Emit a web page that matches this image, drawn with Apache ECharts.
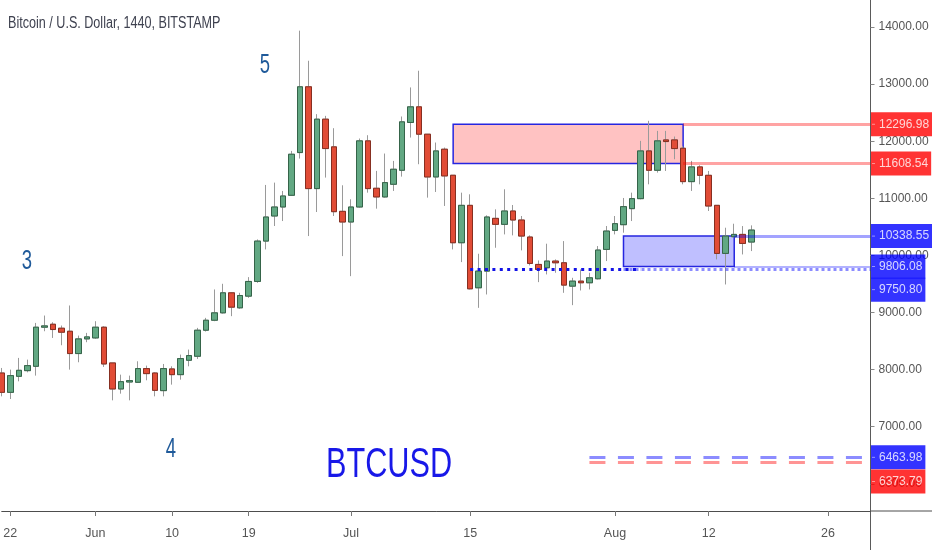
<!DOCTYPE html>
<html><head><meta charset="utf-8">
<script src="https://cdn.jsdelivr.net/npm/echarts@6/dist/echarts.min.js"></script>
<style>html,body{margin:0;padding:0;background:#fff}#c{width:932px;height:550px}</style>
</head><body><div id="c"></div>
<script>
// ---- categories (daily, 2019) ----
const dates = [
'05-21','05-22','05-23','05-24','05-25','05-26','05-27','05-28','05-29','05-30','05-31',
'06-01','06-02','06-03','06-04','06-05','06-06','06-07','06-08','06-09','06-10',
'06-11','06-12','06-13','06-14','06-15','06-16','06-17','06-18','06-19','06-20',
'06-21','06-22','06-23','06-24','06-25','06-26','06-27','06-28','06-29','06-30',
'07-01','07-02','07-03','07-04','07-05','07-06','07-07','07-08','07-09','07-10',
'07-11','07-12','07-13','07-14','07-15','07-16','07-17','07-18','07-19','07-20',
'07-21','07-22','07-23','07-24','07-25','07-26','07-27','07-28','07-29','07-30','07-31',
'08-01','08-02','08-03','08-04','08-05','08-06','08-07','08-08','08-09','08-10',
'08-11','08-12','08-13','08-14','08-15','08-16','08-17','08-18','08-19','08-20',
'08-21','08-22','08-23','08-24','08-25','08-26','08-27','08-28','08-29','08-30','08-31'
];
// ---- OHLC values ----
const opens = [
7941,7602,7883,7982,8058,8743,8795,8725,8672,8281,8538,8555,8743,8117,7661,7783,7778,8018,7941,7632,
8012,7912,8164,8234,8690,8865,8994,9345,9082,9287,9544,10251,10690,10848,11053,11801,12953,11170,12386,11901,
10772,10585,10848,12006,11176,11024,11246,11491,12328,12602,12123,11374,11860,11404,10222,10877,9433,9725,10649,10544,
10778,10620,10322,9842,9784,9901,9871,9462,9550,9521,9591,10105,10439,10538,10819,10994,11830,11491,12023,12023,
11877,11292,11550,11403,10877,10035,10327,10368,10234
];
const closes = [
7602,7895,7988,8070,8743,8766,8702,8655,8281,8538,8573,8743,8099,7661,7789,7807,8018,7930,7637,8018,
7912,8193,8246,8690,8865,8994,9345,9094,9298,9544,10251,10673,10848,11041,11772,12953,11170,12386,11871,10766,
10585,10848,12006,11170,11024,11275,11509,12339,12602,12123,11374,11830,11392,10222,10877,9415,9725,10673,10544,10778,
10620,10339,9860,9754,9901,9871,9480,9550,9521,9608,10094,10427,10556,10854,10994,11830,11491,12006,11994,11871,
11292,11550,11403,10865,10035,10339,10368,10210,10444
];
const lows = [
7532,7485,7795,7953,7895,8672,8555,8427,8000,8129,8480,8538,8047,7462,7579,7462,7766,7813,7532,7532,
7737,7824,8058,8187,8667,8848,8982,8936,9064,9257,9520,10105,10515,10602,11041,11696,10339,10760,11363,10690,
9988,9637,10836,11099,10819,11012,11129,11380,12064,11597,11012,11111,10866,10105,9883,9404,9082,9316,10134,10368,
10351,10088,9825,9532,9667,9696,9345,9129,9386,9404,9579,9901,10368,10398,10602,10982,11245,11450,11479,11684,
11245,11129,11245,10778,9930,9491,10327,10017,10076
];
const highs = [
8029,8000,8205,8175,8818,8947,8830,8772,9123,8596,8643,8848,8760,8117,7912,7895,8146,8070,7953,8099,
8058,8263,8351,8731,8906,9404,9503,9357,9345,9620,10280,11234,11275,11129,11830,13936,13409,12474,12444,12228,
11228,10983,12047,12105,11480,11784,11655,12433,12942,13234,12123,11977,11889,11404,11099,11070,10029,10702,10807,11158,
10883,10690,10351,9912,10205,9930,10251,9608,9754,9696,10164,10515,10690,11006,11099,12006,12357,12181,12181,12082,
11918,11655,11579,11479,10877,10485,10555,10514,10526
];
// ---- axis tick labels ----
const xTickDates = ['05-22','06-01','06-10','06-19','07-01','07-15','08-01','08-12','08-26'];
const monthNames = ['Jan','Feb','Mar','Apr','May','Jun','Jul','Aug','Sep','Oct','Nov','Dec'];
// ---- drawn levels / zones ----
const resistanceZone = [12296.98, 11608.54];
const resistanceDates = ['07-13','08-09'];
const supportZone = [10338.55, 9806.08];
const supportDates = ['08-02','08-15'];
const supportLine = 9750.80;
const dottedDates = ['07-15','08-04'];
const targetLevels = [6463.98, 6373.79];
const targetDates = ['07-29','08-30'];
const lastDate = '08-31';
const waveLabels = ['3','4','5'];
const titleText = 'Bitcoin / U.S. Dollar, 1440, BITSTAMP';
const symbolText = 'BTCUSD';

// full candles (wicks) and their bodies (open/close range), both from the arrays above
const candles = opens.map((o,i)=>[o, closes[i], lows[i], highs[i]]);
const bodies = opens.map((o,i)=>[o, closes[i], Math.min(o, closes[i]), Math.max(o, closes[i])]);
const tickSet = new Set(xTickDates);
const FONT = '"Liberation Sans", Arial, sans-serif';
const RED_LINE = 'rgba(255,0,0,0.36)';
const BLUE_LINE = 'rgba(0,0,255,0.36)';

const priceLevels = [resistanceZone[0], resistanceZone[1], supportZone[0], supportZone[1], supportLine, targetLevels[0], targetLevels[1]];
const priceColors = ['#ff0000','#ff0000','#0000ff','#0000ff','#0000ff','#0000ff','#ff0000'];
const priceShift = [0,0,0,0,20,0,19];

const labelItems = priceLevels.map((v,i)=>({
  value:[lastDate, v],
  label:{backgroundColor:priceColors[i], offset:[0, priceShift[i]]}
}));

function seg(d0, d1, v, style){
  return [{coord:[d0, v], lineStyle:style}, {coord:[d1, v]}];
}
function txt(x, y, text, size, color, sx, align){
  return {type:'text', x:x, y:y, scaleX:sx, silent:true, z:10,
    style:{text:text, font:size+'px '+FONT, fill:color,
      align:align||'center', verticalAlign:'middle', textAlign:align||'center', textVerticalAlign:'middle'}};
}

const chart = echarts.init(document.getElementById('c'), null, {renderer:'canvas'});
chart.setOption({
  backgroundColor:'#ffffff',
  animation:false,
  grid:{left:1.74, right:61.5, top:0, bottom:39, containLabel:false, outerBoundsMode:'none'},
  xAxis:{
    type:'category', data:dates, boundaryGap:false,
    axisLine:{show:true, lineStyle:{color:'#4d4d4d', width:1}},
    axisTick:{show:true, interval:(i,v)=>tickSet.has(v), length:5, lineStyle:{color:'#777'}},
    axisLabel:{
      interval:(i,v)=>tickSet.has(v), margin:16, color:'#555',
      fontFamily:FONT, fontSize:12.5,
      formatter:(v)=>{const m=+v.slice(0,2), d=+v.slice(3); return d===1?monthNames[m-1]:String(d);}
    },
    splitLine:{show:false}
  },
  yAxis:{
    type:'value', position:'right', min:5524, max:14473, splitNumber:9,
    splitLine:{show:false},
    axisLine:{show:true, lineStyle:{color:'#5a5a5a', width:1}},
    axisTick:{show:true, length:4, lineStyle:{color:'#888'}},
    axisLabel:{color:'#555', fontFamily:FONT, fontSize:12, margin:8,
      showMinLabel:false, showMaxLabel:false,
      formatter:(v)=>v.toFixed(2)}
  },
  series:[
    {
      type:'candlestick', name:'BTCUSD', data:candles, barWidth:6, clip:false, z:2,
      silent:true,
      itemStyle:{color:'#62a883', color0:'#e14c36', borderColor:'#9a9a9a', borderColor0:'#9a9a9a', borderWidth:1}
    },
    {
      type:'candlestick', name:'BTCUSD body', data:bodies, barWidth:6, clip:false, z:3,
      silent:true,
      itemStyle:{color:'#62a883', color0:'#e14c36', borderColor:'#356449', borderColor0:'#872f21', borderWidth:1}
    },
    {
      type:'scatter', name:'levels', data:labelItems, symbolSize:1, clip:false, z:5, silent:true,
      itemStyle:{color:'rgba(0,0,0,0)'},
      emphasis:{disabled:true},
      label:{
        show:true, position:'right', distance:0,
        padding:[5,3,5,1],
        formatter:(p)=>'{d|}{v|'+p.value[1].toFixed(2)+'}',
        rich:{
          d:{width:3, height:1, backgroundColor:'rgba(255,255,255,0.6)'},
          v:{color:'#ffffff', fontFamily:FONT, fontSize:12, lineHeight:14, padding:[0,0,0,4]}
        }
      },
      markArea:{
        silent:true, label:{show:false},
        data:[
          [{coord:[resistanceDates[0], resistanceZone[0]], itemStyle:{color:'rgba(255,0,0,0.24)', borderColor:'#2626e0', borderWidth:1.5}},
           {coord:[resistanceDates[1], resistanceZone[1]]}],
          [{coord:[supportDates[0], supportZone[0]], itemStyle:{color:'rgba(0,0,255,0.25)', borderColor:'#2626e0', borderWidth:1.5}},
           {coord:[supportDates[1], supportZone[1]]}]
        ]
      },
      markLine:{
        silent:true, symbol:['none','none'], label:{show:false},
        data:[
          seg(resistanceDates[1], lastDate, resistanceZone[0], {color:RED_LINE, width:3, type:'solid'}),
          seg(resistanceDates[1], lastDate, resistanceZone[1], {color:RED_LINE, width:3, type:'solid'}),
          seg(supportDates[1], lastDate, supportZone[0], {color:BLUE_LINE, width:3, type:'solid'}),
          seg(supportDates[1], lastDate, supportZone[1], {color:'rgba(0,0,255,0.3)', width:2, type:'solid'}),
          seg(supportDates[0], lastDate, supportLine, {color:'rgba(0,0,255,0.45)', width:3, type:[3,3]}),
          seg(dottedDates[0], dottedDates[1], supportLine, {color:'#1212e6', width:3, type:[3,4.4]}),
          seg(targetDates[0], targetDates[1], targetLevels[0], {color:'rgba(0,0,255,0.45)', width:3, type:[16,12.5]}),
          seg(targetDates[0], targetDates[1], targetLevels[1], {color:'rgba(255,0,0,0.42)', width:3, type:[16,12.5]})
        ]
      }
    }
  ],
  graphic:[
    txt(8, 24, titleText, 16, '#3f4250', 0.787, 'left'),
    txt(265, 65, waveLabels[2], 28, '#1f5a9a', 0.66),
    txt(27, 261, waveLabels[0], 28, '#1f5a9a', 0.66),
    txt(171, 449, waveLabels[1], 28, '#1f5a9a', 0.66),
    txt(389, 465, symbolText, 42, '#1818e8', 0.73),
    {type:'line', silent:true, shape:{x1:870.5, y1:511, x2:932, y2:511}, style:{stroke:'#4d4d4d', lineWidth:1}},
    {type:'line', silent:true, shape:{x1:870.5, y1:511, x2:870.5, y2:550}, style:{stroke:'#5a5a5a', lineWidth:1}}
  ]
});
</script></body></html>
